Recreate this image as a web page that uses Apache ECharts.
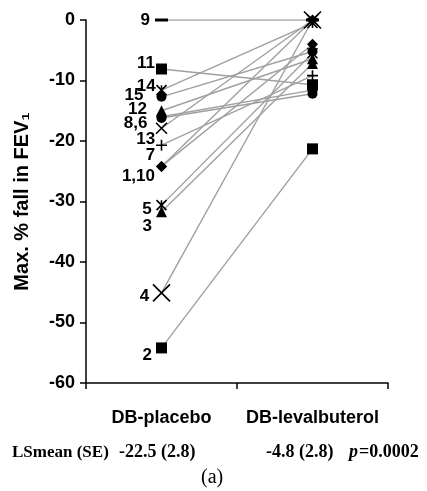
<!DOCTYPE html>
<html>
<head>
<meta charset="utf-8">
<script src="https://cdn.jsdelivr.net/npm/echarts@6/dist/echarts.min.js"></script>
<style>
  html, body { margin: 0; padding: 0; background: #fff; }
  #chart { width: 427px; height: 491px; }
</style>
</head>
<body>
<div id="chart"></div>
<script>
// data
const categories = ['DB-placebo', 'DB-levalbuterol']
const subjects = [1, 2, 3, 4, 5, 6, 7, 8, 9, 10, 11, 12, 13, 14, 15]
const placebo = [-24.2, -54.2, -31.7, -45.1, -30.6, -16.2, -20.7, -16.0, 0, -24.2, -8.1, -15.0, -17.9, -11.6, -12.7]
const levalbuterol = [-4.0, -21.3, -7.2, 0, -5.5, -12.2, -9.2, -11.6, 0, 0, -10.7, -6.4, 0, -0.5, -5.2]
const markers = ['diamond', 'square', 'triangle', 'x', 'star', 'circle', 'plus', 'circle', 'dash',
  'diamond', 'square', 'triangle', 'x', 'star', 'circle']
const pointLabels = ['1,10', '2', '3', '4', '5', '', '7', '8,6', '9', '', '11', '12', '13', '14', '15']
const yTicks = [0, -10, -20, -30, -40, -50, -60]
const lsmean = ['-22.5 (2.8)', '-4.8 (2.8)']
const pValue = '0.0002'

// marker look
const shapes = {
  diamond: { symbol: 'diamond', size: 11, stroke: false },
  square: { symbol: 'rect', size: 11, stroke: false },
  triangle: { symbol: 'triangle', size: 11, stroke: false },
  circle: { symbol: 'circle', size: 10, stroke: false },
  dash: { symbol: 'rect', size: [13, 3], stroke: false },
  x: { symbol: 'path://M0,0L10,10M10,0L0,10', size: 11, stroke: true },
  star: { symbol: 'path://M0,0L10,10M10,0L0,10M5,0L5,10', size: 10, stroke: true },
  plus: { symbol: 'path://M5,0L5,10M0,5L10,5', size: 11, stroke: true }
}
const sizeOverride = { 4: 17 }
// label nudges [dx, dy] next to the placebo points
const nudge = {
  '1,10': [-1, 10], '2': [-4, 7], '3': [-4, 15], '4': [-3, 3], '5': [-4, 4], '7': [0, 10],
  '8,6': [-9, 7], '9': [-5, 0], '11': [-1, -6], '12': [-9, -1], '13': [0, 11], '14': [0, -4], '15': [-13, -2]
}

const font = 'Liberation Sans, Arial, sans-serif'
const serif = 'Liberation Serif, Times New Roman, serif'

const series = []
subjects.forEach(function(s, i) {
  series.push({
    type: 'line',
    name: 'line' + s,
    data: [placebo[i], levalbuterol[i]],
    symbol: 'none',
    lineStyle: { color: '#a0a0a0', width: 1.4 },
    z: 2,
    silent: true
  })
})
subjects.forEach(function(s, i) {
  const m = shapes[markers[i]]
  const lbl = pointLabels[i]
  series.push({
    type: 'scatter',
    name: 'subj' + s,
    symbol: m.symbol,
    symbolSize: sizeOverride[s] || m.size,
    itemStyle: m.stroke
      ? { color: '#000', borderColor: '#000', borderWidth: 1.6, opacity: 1 }
      : { color: '#000', opacity: 1 },
    z: 5,
    data: [
      {
        value: [0, placebo[i]],
        label: lbl ? {
          show: true,
          position: 'left',
          distance: 0,
          offset: nudge[lbl] || [0, 0],
          formatter: lbl,
          color: '#000',
          fontSize: 17,
          fontWeight: 'bold',
          fontFamily: font
        } : { show: false }
      },
      [1, levalbuterol[i]]
    ]
  })
})

const myChart = echarts.init(document.getElementById('chart'), null, { renderer: 'canvas' })
myChart.setOption({
  animation: false,
  backgroundColor: '#fff',
  grid: { left: 86, right: 39, top: 20, bottom: 108 },
  xAxis: {
    type: 'category',
    data: categories,
    boundaryGap: true,
    axisLine: { onZero: false, lineStyle: { color: '#000', width: 1.5 } },
    axisTick: { show: true, length: 6, lineStyle: { color: '#000', width: 1.5 } },
    axisLabel: { interval: 0, color: '#000', fontSize: 18, fontWeight: 'bold', fontFamily: font, margin: 26 },
    splitLine: { show: false }
  },
  yAxis: {
    type: 'value',
    min: yTicks[yTicks.length - 1],
    max: yTicks[0],
    interval: 10,
    name: 'Max. % fall in FEV\u2081',
    nameLocation: 'middle',
    nameRotate: 90,
    nameGap: 54,
    nameTextStyle: { color: '#000', fontSize: 20, fontWeight: 'bold', fontFamily: font },
    axisLine: { show: true, lineStyle: { color: '#000', width: 1.5 } },
    axisTick: { show: true, length: 6, lineStyle: { color: '#000', width: 1.5 } },
    axisLabel: { color: '#000', fontSize: 18, fontWeight: 'bold', fontFamily: font, margin: 11 },
    splitLine: { show: false }
  },
  graphic: [
    { type: 'text', left: 12, top: 444, style: { text: 'LSmean (SE)', font: 'bold 17px ' + serif, fill: '#000' } },
    { type: 'text', left: 119, top: 443, style: { text: lsmean[0], font: 'bold 18px ' + serif, fill: '#000' } },
    { type: 'text', left: 266, top: 443, style: { text: lsmean[1], font: 'bold 18px ' + serif, fill: '#000' } },
    { type: 'text', left: 349, top: 443, style: { text: 'p', font: 'italic bold 18px ' + serif, fill: '#000' } },
    { type: 'text', left: 359, top: 443, style: { text: '=' + pValue, font: 'bold 18px ' + serif, fill: '#000' } },
    { type: 'text', left: 201, top: 468, style: { text: '(a)', font: '20px ' + serif, fill: '#000' } }
  ],
  series: series
})
</script>
</body>
</html>
